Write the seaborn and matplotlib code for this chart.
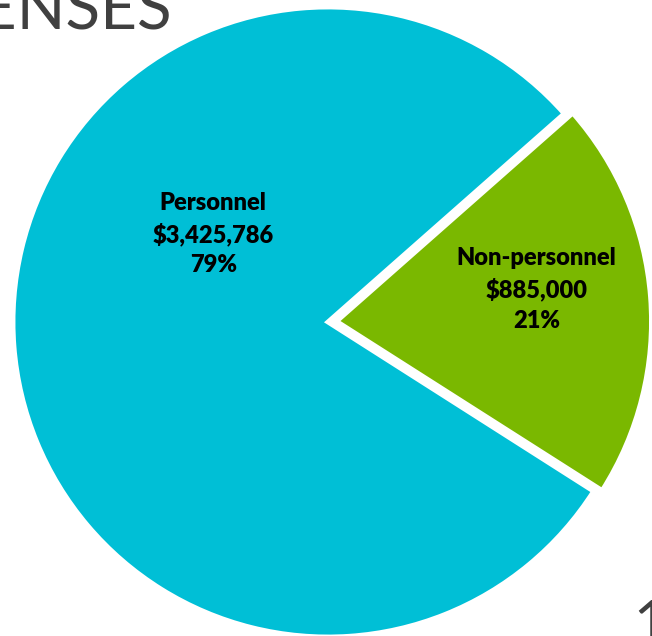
import numpy as np
import matplotlib.pyplot as plt
import seaborn as sns

categories = ['Non-personnel', 'Personnel']
amounts = [885000, 3425786]
colors = ['#7AB800', '#00BFD6']
explode = [0.027, 0.0]
label_pos = [(0.823, 0.545), (0.327, 0.632)]   # axes fraction, label block centres

sns.set_theme(style='white')
plt.rcParams['font.family'] = ['Lato', 'DejaVu Sans']

fig = plt.figure(figsize=(6.52, 6.36), dpi=100)
ax = fig.add_axes([0, 0, 1, 1])

r_px = 315.0
cx, cy = 328.0, 636 - 322.0
ax.pie(amounts, colors=colors, startangle=-32.5, counterclock=True,
       explode=explode, radius=1.0,
       wedgeprops=dict(edgecolor='white', linewidth=3.5))
ax.set_xlim(-cx / r_px, (652 - cx) / r_px)
ax.set_ylim(-cy / r_px, (636 - cy) / r_px)
ax.set_aspect('auto')
ax.axis('off')

total = sum(amounts)
for name, val, (lx, ly) in zip(categories, amounts, label_pos):
    pct = val / total * 100
    ax.text(lx, ly, f"{name}\n${val:,}\n{pct:.0f}%", transform=ax.transAxes,
            ha='center', va='center', fontsize=17, fontweight='heavy',
            color='black', linespacing=1.45)

fig.text(172 / 652, 1 - 29 / 636, 'EXPENSES', ha='right', va='baseline',
         fontsize=46, color='#404040', fontweight='normal')
fig.text(633 / 652, -6 / 636, '1', ha='left', va='baseline',
         fontsize=42, color='#404040', fontweight='normal')

fig.savefig('out.png', dpi=100)
